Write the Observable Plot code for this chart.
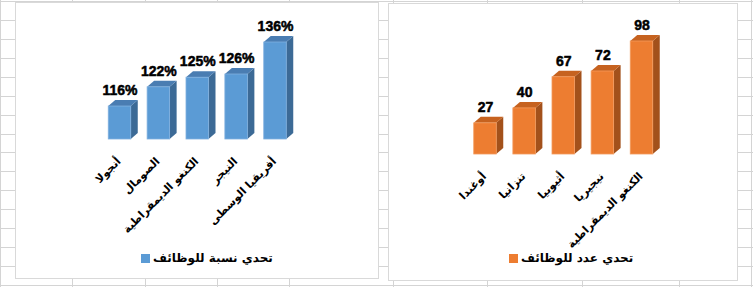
<!DOCTYPE html>
<html>
<head>
<meta charset="utf-8">
<script src="https://cdn.jsdelivr.net/npm/d3@7"></script>
<script src="https://cdn.jsdelivr.net/npm/@observablehq/plot@0.6"></script>
<style>
  html, body { margin: 0; padding: 0; background: #fff; }
  body { width: 753px; height: 287px; position: relative; overflow: hidden; }
  #grid { position: absolute; left: 0; top: 0; }
  .box { position: absolute; border: 1px solid #d9d9d9; background: #fff; box-sizing: border-box; }
  .box svg { position: absolute; left: 0; top: 0; }
  .legend { position: absolute; display: flex; align-items: center; gap: 3px;
            font: bold 12px "DejaVu Sans", sans-serif; color: #000; white-space: nowrap; }
  .legend .sw { width: 9px; height: 9px; display: inline-block; }
</style>
</head>
<body>
<svg id="grid" width="753" height="287"></svg>
<div class="box" id="left" style="left:15px;top:2px;width:364px;height:277px;"></div>
<div class="box" id="right" style="left:388px;top:3px;width:350px;height:278px;"></div>
<script>
// ---- data ----
const leftCategories = ["أنجولا", "الصومال", "الكنغو الديمقراطية", "النيجر", "أفريقيا الوسطى"];
const leftValues = [116, 122, 125, 126, 136];
const leftLegend = "تحدي نسبة للوظائف";

const rightCategories = ["أوغندا", "تنزانيا", "أثيوبيا", "نيجيريا", "الكنغو الديمقراطية"];
const rightValues = [27, 40, 67, 72, 98];
const rightLegend = "تحدي عدد للوظائف";

// ---- spreadsheet background grid ----
const grid = d3.select("#grid");
const colLines = [0.5, 72.5, 145.5, 217.5, 289.5, 393.5, 487.5, 582.5, 679.5, 751.5];
for (const x of colLines) grid.append("line").attr("x1", x).attr("x2", x).attr("y1", 0).attr("y2", 287).attr("stroke", "#d4d4d4");
for (let k = 0; k <= 15; k++) {
  const y = Math.round(1 + k * 18.93) + 0.5;
  grid.append("line").attr("x1", 0).attr("x2", 753).attr("y1", y).attr("y2", y).attr("stroke", "#d4d4d4");
}

function bar3d({el, categories, values, fmt, xRange, yDomain, yRange, colors, legend, legendPos, width, height}) {
  const data = categories.map((name, i) => ({i, name, v: values[i]}));
  const step = (xRange[1] - xRange[0]) / (categories.length - 1);
  const pxPerY = (yRange[0] - yRange[1]) / (yDomain[1] - yDomain[0]);
  const hw = 11.25 / step;      // half bar width in x units
  const ddx = 7 / step;         // depth in x units
  const ddy = 6 / pxPerY;       // depth in y units
  const base = yDomain[0];
  const side = data.flatMap(d => [
    {i: d.i, x: d.i + hw, y1: base, y2: d.v},
    {i: d.i, x: d.i + hw + ddx, y1: base + ddy, y2: d.v + ddy}
  ]);
  const top = data.flatMap(d => [
    {i: d.i, y: d.v, x1: d.i - hw, x2: d.i + hw},
    {i: d.i, y: d.v + ddy, x1: d.i - hw + ddx, x2: d.i + hw + ddx}
  ]);
  const plot = Plot.plot({
    width, height,
    style: {background: "transparent", overflow: "visible"},
    x: {domain: [0, categories.length - 1], range: xRange, axis: null},
    y: {domain: yDomain, range: yRange, axis: null},
    marks: [
      Plot.area(side, {x1: "x", y1: "y1", y2: "y2", z: "i", fill: colors.side}),
      Plot.area(top, {y1: "y", x1: "x1", x2: "x2", z: "i", fill: colors.top}),
      Plot.rect(data, {x1: d => d.i - hw, x2: d => d.i + hw, y1: () => base, y2: "v",
                       fill: colors.front, stroke: colors.edge, strokeWidth: 0.8}),
      Plot.text(data, {x: "i", y: "v", text: d => fmt(d.v), dy: -16,
                       fontSize: 14, fontWeight: "bold", fontFamily: "Liberation Sans, Arial, sans-serif",
                       fill: "#000", stroke: "#000", strokeWidth: 0.5}),
      Plot.text(data, {x: "i", y: () => base, text: "name", rotate: -45, textAnchor: "end",
                       dx: -1, dy: 20, fontSize: 11, fontWeight: "bold",
                       fontFamily: "DejaVu Sans, sans-serif", fill: "#000"})
    ]
  });
  const box = document.getElementById(el);
  box.appendChild(plot);
  const lg = document.createElement("div");
  lg.className = "legend";
  lg.style.left = legendPos[0] + "px";
  lg.style.top = legendPos[1] + "px";
  lg.innerHTML = `<span class="sw" style="background:${colors.front}"></span><span></span>`;
  lg.lastChild.textContent = legend;
  box.appendChild(lg);
}

bar3d({
  el: "left", categories: leftCategories, values: leftValues, fmt: v => v + "%",
  xRange: [103.5, 259], yDomain: [105.7, 136], yRange: [136, 39],
  colors: {front: "#5B9BD5", side: "#3C6A96", top: "#4A7DB2", edge: "#7FB0DF"},
  legend: leftLegend, legendPos: [125, 248], width: 362, height: 245
});
bar3d({
  el: "right", categories: rightCategories, values: rightValues, fmt: v => String(v),
  xRange: [96, 252.5], yDomain: [0, 98], yRange: [150, 37],
  colors: {front: "#ED7D31", side: "#A3511B", top: "#C6621F", edge: "#F39A5C"},
  legend: rightLegend, legendPos: [120, 247], width: 348, height: 245
});
</script>
</body>
</html>
